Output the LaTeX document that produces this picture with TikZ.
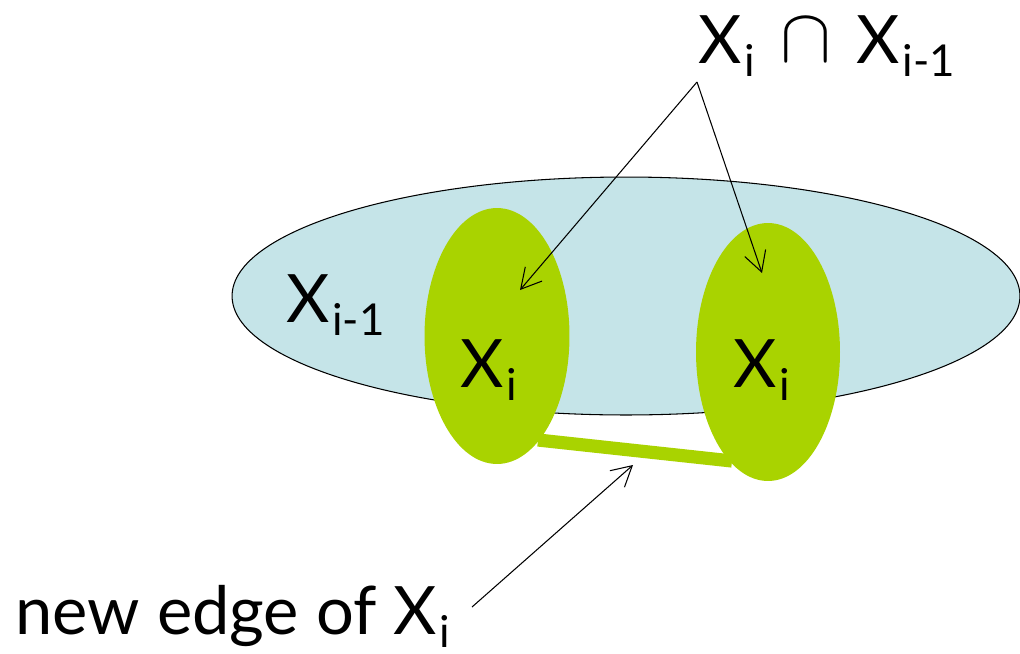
\documentclass[tikz,border=0pt]{standalone}
\usepackage{fontspec}
\setmainfont{Lato}
\usepackage{xcolor}
\usetikzlibrary{arrows.meta,shapes.geometric}
\definecolor{paleblue}{HTML}{C5E4E8}
\definecolor{limegreen}{HTML}{A9D300}
\newcommand{\Xsub}[1]{X\kern.04em\raisebox{-.2em}{\fontsize{25}{25}\selectfont #1}}
\newcommand{\meetsign}{\hspace{.38em}\raisebox{.02em}{\scalebox{1.75}{$\cap$}}\hspace{.38em}}

\begin{document}
\begin{tikzpicture}[x=0.02cm, y=-0.02cm]
  % one unit = one pixel of the 1020x653 frame, y running down
  \useasboundingbox (0,0) rectangle (1020,653);
  \tikzset{
    bag/.style={ellipse, inner sep=0pt},
    bigbag/.style={bag, fill=paleblue, draw=black, line width=0.6pt},
    subbag/.style={bag, fill=limegreen},
    newedge/.style={limegreen, line width=7.5pt},
    lab/.style={inner sep=0pt, font=\fontsize{38}{38}\selectfont},
    pointer/.style={black, line width=0.6pt,
                    -{Straight Barb[length=4mm, width=4.4mm]}}}

  % ========== the bags: X_{i-1} and the two copies of X_i ==========
  \node[bigbag, minimum width=15.76cm, minimum height=4.76cm] (prev) at (626,296) {};
  \node[subbag, minimum width=2.90cm, minimum height=5.12cm] (left) at (497,336) {};
  \node[subbag, minimum width=2.88cm, minimum height=5.16cm] (right) at (768,352) {};

  % the new edge, joining the two copies
  \coordinate (eL) at (538,440);
  \coordinate (eR) at (732,461);
  \draw[newedge] (eL) -- (eR);

  % ========== labels ==========
  \node[lab, anchor=base west] (lprev)  at (286,322) {\Xsub{i-1}};
  \node[lab, anchor=base west] (lleft)  at (460,387) {\Xsub{i}};
  \node[lab, anchor=base west] (lright) at (733,387) {\Xsub{i}};
  \node[lab, anchor=base west] (meet)   at (698,63)  {\Xsub{i}\meetsign\Xsub{i-1}};
  \node[lab, anchor=base west] (new)    at (15,634)  {new edge of \Xsub{i}};

  % ========== pointers ==========
  \coordinate (apex) at (697,82);
  \coordinate (tipL) at (520,290);
  \coordinate (tipR) at (762,273);
  \coordinate (tail) at (472,607);
  \coordinate (tipE) at (633,465);
  \draw[pointer] (apex) -- (tipL);
  \draw[pointer] (apex) -- (tipR);
  \draw[pointer] (tail) -- (tipE);
\end{tikzpicture}
\end{document}
